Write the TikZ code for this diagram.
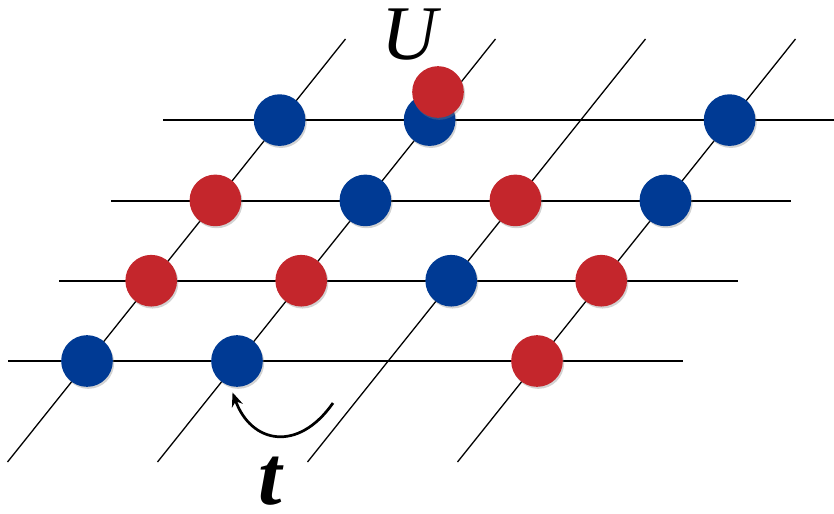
\documentclass[tikz,border=0pt]{standalone}
\usepackage{fontspec}
\setmainfont{Liberation Serif}
\usetikzlibrary{arrows.meta,shadows}

\definecolor{siteblue}{RGB}{0,58,148}
\definecolor{sitered}{RGB}{196,38,44}

\tikzset{
  gridline/.style={black, line width=1.1pt},
  dot/.style={circle, minimum size=1.55cm, inner sep=0pt,
    drop shadow={opacity=0.35, shadow xshift=0.4mm, shadow yshift=-0.6mm}},
  bluedot/.style={dot, fill=siteblue},
  reddot/.style={dot, fill=sitered}
}

\begin{document}
\begin{tikzpicture}[x=0.3cm, y=0.3cm]
            \useasboundingbox (0,0) rectangle (83.4,51.3);

            % Horizontal rows
            \foreach \y/\a/\b in {15.2/0.8/68.3, 23.2/5.9/73.8, 31.2/11.1/79.1, 39.3/16.3/83.4}
              \draw[gridline] (\a,\y) -- (\b,\y);

            % Slanted rows
            \foreach \i in {0,...,3}
              \draw[gridline] ({0.75+15*\i},5.1) -- ++(33.8,42.3);

            % Blue sites
            \foreach \i/\j in {0/0, 1/0, 2/1, 1/2, 3/2, 0/3, 1/3, 3/3}
              \node[bluedot] (s\i\j) at ({8.7+15*\i+6.42*\j},{15.2+8.03*\j}) {};

            % Red sites
            \foreach \i/\j in {3/0, 0/1, 1/1, 3/1, 0/2, 2/2}
              \node[reddot] (s\i\j) at ({8.7+15*\i+6.42*\j},{15.2+8.03*\j}) {};

            % Doubly occupied site
            \node[reddot] (up) at (43.8,42.1) {};
            \node (ulabel) at (40.9,47.8) {\fontsize{66}{66}\selectfont\itshape U};

            % Hopping
            \coordinate (hop) at (33.3,11.0);
            \draw[-{Stealth[length=4.2mm, width=3.4mm]}, line width=2.3pt, shorten >=2mm]
              (hop) to[out=235, in=-70, looseness=1.5] (s10.-105);
            \node[inner sep=0pt, anchor=base] (tlabel) at (27.0,0.9) {\fontsize{72}{72}\selectfont\bfseries\itshape t};
        \end{tikzpicture}
\end{document}
